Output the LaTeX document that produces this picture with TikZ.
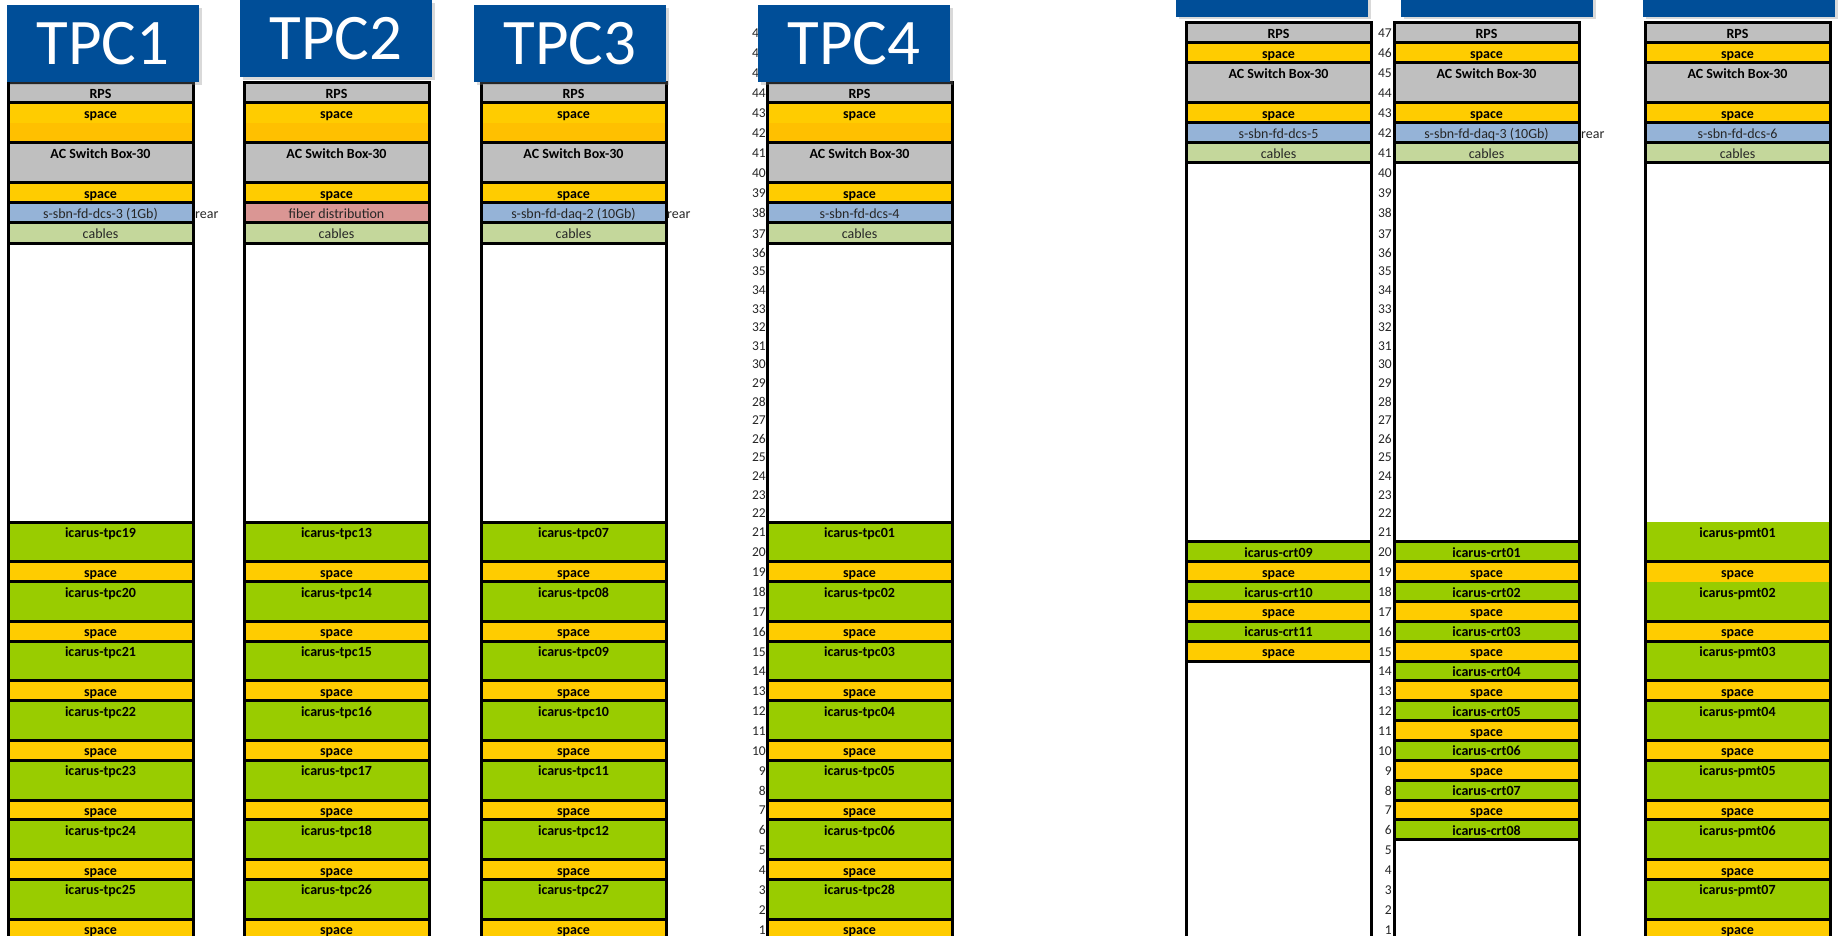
\documentclass[tikz,border=0pt]{standalone}
\usepackage{fontspec}
\setmainfont{Carlito}
\usetikzlibrary{shadows}
\definecolor{rackGray}{HTML}{BFBFBF}
\definecolor{spaceYellow}{HTML}{FFCC00}
\definecolor{spaceOrange}{HTML}{FFC000}
\definecolor{switchBlue}{HTML}{95B3D7}
\definecolor{cableGreen}{HTML}{C4D79B}
\definecolor{fiberPink}{HTML}{DA9694}
\definecolor{serverGreen}{HTML}{99CC00}
\definecolor{headerBlue}{HTML}{004E98}
\definecolor{textDark}{HTML}{262626}

% top edge of a rack unit (rows are not all the same height)
\tikzset{declare function={rt(\rowno)=(\rowno>36) ? 23+(47-\rowno)*20 : ((\rowno>21) ? 243+(36-\rowno)*18.6 : 522+(21-\rowno)*19.86);}}

% #1 top unit, #2 bottom unit, #3 fill, #4 label style, #5 label
\newcommand{\rackslot}[5]{%
  \pgfmathsetmacro{\ytop}{rt(#1)}%
  \pgfmathsetmacro{\ybot}{rt(#2-1)}%
  \pgfmathsetmacro{\ytxt}{(rt(#1)+rt(#1-1))/2+5.5}%
  \draw[slot, fill=#3] (\xl,\ytop) rectangle (\xl+185,\ybot);
  \node[#4] (\rid-#1) at (\xl+92.5,\ytxt) {#5};
}
\newcommand{\emptyslot}[2]{%
  \draw[slot] (\xl,{rt(#1)}) rectangle (\xl+185,{rt(#2-1)});
}

\begin{document}
\begin{tikzpicture}[x=1pt, y=-1pt,
    slot/.style={draw=black, line width=3pt},
    lbl/.style={font=\fontsize{14}{16}\selectfont\bfseries, inner sep=0pt, anchor=base},
    plainlbl/.style={font=\fontsize{14}{16}\selectfont, text=textDark, inner sep=0pt, anchor=base},
    rownum/.style={font=\fontsize{13.5}{15}\selectfont, text=textDark, inner sep=0pt, anchor=base east},
    header/.style={fill=headerBlue, text=white, font=\fontsize{65}{70}\selectfont, inner sep=0pt,
      minimum width=192pt, drop shadow={shadow xshift=2.5pt, shadow yshift=-2.5pt, opacity=0.3}}]
  \useasboundingbox (0,0) rectangle (1839,936);
  \clip (0,0) rectangle (1839,936);

  % --- unit numbers ---
  \foreach \n in {1,...,47}{
    \node[rownum] (numL-\n) at (766,{(rt(\n)+rt(\n-1))/2+5}) {\n};
    \node[rownum] (numR-\n) at (1392,{(rt(\n)+rt(\n-1))/2+5}) {\n};
  }

  % --- TPC racks (44U) ---
  \foreach \rid/\xl/\hx/\hy/\rtitle/\swtext/\swfill/\srv in {
      tpc1/8/103/5/TPC1/{s-sbn-fd-dcs-3 (1Gb)}/switchBlue/{19,20,21,22,23,24,25},
      tpc2/244/336/0/TPC2/{fiber distribution}/fiberPink/{13,14,15,16,17,18,26},
      tpc3/481/570/5/TPC3/{s-sbn-fd-daq-2 (10Gb)}/switchBlue/{07,08,09,10,11,12,27},
      tpc4/767/854/5/TPC4/{s-sbn-fd-dcs-4}/switchBlue/{01,02,03,04,05,06,28}}{
    \rackslot{44}{44}{rackGray}{lbl}{RPS}
    \rackslot{43}{42}{spaceYellow}{lbl}{space}
    \fill[spaceOrange] (\xl+1.5,{rt(42)}) rectangle (\xl+183.5,{rt(41)-1.5});
    \rackslot{41}{40}{rackGray}{lbl}{AC Switch Box-30}
    \rackslot{39}{39}{spaceYellow}{lbl}{space}
    \rackslot{38}{38}{\swfill}{plainlbl}{\swtext}
    \rackslot{37}{37}{cableGreen}{plainlbl}{cables}
    \emptyslot{36}{22}
    \foreach \s [count=\i] in \srv {
      \pgfmathtruncatemacro{\utop}{24-3*\i}
      \pgfmathtruncatemacro{\ubot}{\utop-1}
      \pgfmathtruncatemacro{\ugap}{\utop-2}
      \rackslot{\utop}{\ubot}{serverGreen}{lbl}{icarus-tpc\s}
      \rackslot{\ugap}{\ugap}{spaceYellow}{lbl}{space}
    }
    \draw[slot] (\xl,{rt(44)}) rectangle (\xl+185,{rt(0)});
    \node[header, minimum height=77pt, anchor=north] (\rid-head) at (\hx,\hy) {\rtitle};
  }
  \node[plainlbl, anchor=base west] (rear1) at (195,218.5) {rear};
  \node[plainlbl, anchor=base west] (rear3) at (667,218.5) {rear};

  % --- CRT / PMT racks (47U) ---
  \foreach \rid/\xl/\hx/\swtext in {crtA/1186/1272/{s-sbn-fd-dcs-5},
      crtB/1394/1497/{s-sbn-fd-daq-3 (10Gb)}, pmt/1645/1739/{s-sbn-fd-dcs-6}}{
    \node[header, minimum height=40pt, anchor=south] (\rid-head) at (\hx,17) {};
    \rackslot{47}{47}{rackGray}{lbl}{RPS}
    \rackslot{46}{46}{spaceYellow}{lbl}{space}
    \rackslot{45}{44}{rackGray}{lbl}{AC Switch Box-30}
    \rackslot{43}{43}{spaceYellow}{lbl}{space}
    \rackslot{42}{42}{switchBlue}{plainlbl}{\swtext}
    \rackslot{41}{41}{cableGreen}{plainlbl}{cables}
  }
  \node[plainlbl, anchor=base west] (rearB) at (1581,138.5) {rear};

  \begin{scope}
    \def\xl{1186}\def\rid{crtA}
    \emptyslot{40}{21}
    \foreach \s [count=\i] in {09,10,11}{
      \pgfmathtruncatemacro{\utop}{22-2*\i}
      \pgfmathtruncatemacro{\ugap}{\utop-1}
      \rackslot{\utop}{\utop}{serverGreen}{lbl}{icarus-crt\s}
      \rackslot{\ugap}{\ugap}{spaceYellow}{lbl}{space}
    }
    \emptyslot{14}{1}
    \draw[slot] (\xl,{rt(47)}) rectangle (\xl+185,{rt(0)});
  \end{scope}

  \begin{scope}
    \def\xl{1394}\def\rid{crtB}
    \emptyslot{40}{21}
    \foreach \s [count=\i] in {01,02,03,04,05,06,07,08}{
      \pgfmathtruncatemacro{\utop}{22-2*\i}
      \rackslot{\utop}{\utop}{serverGreen}{lbl}{icarus-crt\s}
    }
    \foreach \g in {19,17,...,7}{
      \rackslot{\g}{\g}{spaceYellow}{lbl}{space}
    }
    \emptyslot{5}{1}
    \draw[slot] (\xl,{rt(47)}) rectangle (\xl+185,{rt(0)});
  \end{scope}

  \begin{scope}
    \def\xl{1645}\def\rid{pmt}
    % first two boxes have no top rule
    \fill[serverGreen] (\xl,{rt(21)}) rectangle (\xl+185,{rt(19)});
    \fill[spaceYellow] (\xl,{rt(19)}) rectangle (\xl+185,{rt(18)});
    \fill[serverGreen] (\xl,{rt(18)}) rectangle (\xl+185,{rt(16)});
    \draw[slot] (\xl,{rt(19)}) -- (\xl+185,{rt(19)});
    \node[lbl] (pmt-21) at (\xl+92.5,{(rt(21)+rt(20))/2+5.5}) {icarus-pmt01};
    \node[lbl] (pmt-19) at (\xl+92.5,{(rt(19)+rt(18))/2+5.5}) {space};
    \node[lbl] (pmt-18) at (\xl+92.5,{(rt(18)+rt(17))/2+5.5}) {icarus-pmt02};
    \foreach \s [count=\i] in {03,04,05,06,07}{
      \pgfmathtruncatemacro{\utop}{18-3*\i}
      \pgfmathtruncatemacro{\ubot}{\utop-1}
      \pgfmathtruncatemacro{\ugap}{\utop+1}
      \rackslot{\ugap}{\ugap}{spaceYellow}{lbl}{space}
      \rackslot{\utop}{\ubot}{serverGreen}{lbl}{icarus-pmt\s}
    }
    \rackslot{1}{1}{spaceYellow}{lbl}{space}
    \draw[slot] (\xl,{rt(47)}) rectangle (\xl+185,{rt(0)});
  \end{scope}
\end{tikzpicture}
\end{document}
